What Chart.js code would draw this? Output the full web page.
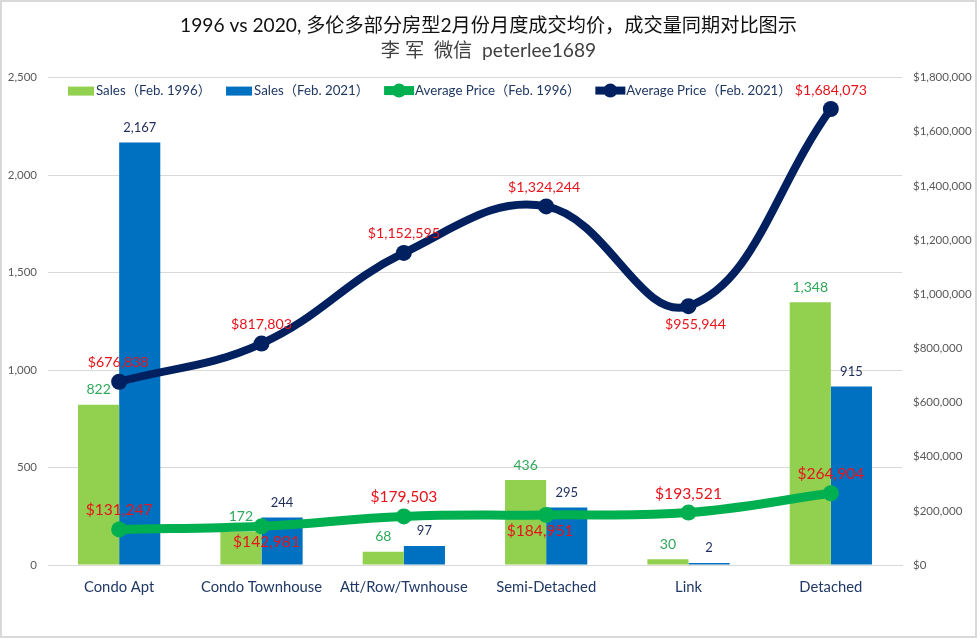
<!DOCTYPE html>
<html>
<head>
<meta charset="utf-8">
<title>1996 vs 2020</title>
<script src="https://cdn.jsdelivr.net/npm/chart.js@4"></script>
<style>
    html, body { margin: 0; padding: 0; background: #fff; overflow: hidden; }
    #wrap { position: relative; width: 977px; height: 638px; box-sizing: border-box; border: 2px solid #d9d9d9; }
    canvas { display: block; }
</style>
</head>
<body>
<div id="wrap"><canvas id="chart" width="973" height="634"></canvas></div>
<script>
// data
const categories = ["Condo Apt", "Condo Townhouse", "Att/Row/Twnhouse", "Semi-Detached", "Link", "Detached"];
const sales1996 = [822, 172, 68, 436, 30, 1348];
const sales2021 = [2167, 244, 97, 295, 2, 915];
const price1996 = [131247, 142981, 179503, 184951, 193521, 264904];
const price2021 = [676838, 817803, 1152595, 1324244, 955944, 1684073];

const titleLine = "1996 vs 2020, 多伦多部分房型2月份月度成交均价，成交量同期对比图示";
const subtitleLine = "李 军  微信  peterlee1689";

const FONT = 'Lato, "Noto Sans CJK SC", sans-serif';
const GREEN_BAR = "#92d050";
const BLUE_BAR = "#0070c0";
const GREEN_LINE = "#00b050";
const NAVY_LINE = "#002060";

// where each price label sits relative to its point
const price1996Side = ["above", "below", "above", "below", "above", "above"];
const price2021Side = ["above", "above", "above", "above", "below", "above"];
const price1996Nudge = [0, 5, 0, -6, 0, 0];
const price2021Nudge = [-1, 0, 0, -2, 7, 0];

// value labels, drawn from the dataset points
const valueLabels = {
    id: "valueLabels",
    afterDatasetsDraw(chart) {
        const ctx = chart.ctx;
        ctx.save();
        ctx.textAlign = "center";
        ctx.textBaseline = "middle";
        chart.data.datasets.forEach((ds, i) => {
            const meta = chart.getDatasetMeta(i);
            meta.data.forEach((pt, j) => {
                const text = ds.labelPrefix + ds.data[j].toLocaleString("en-US");
                let offset = -15;
                let nudge = 0;
                if (ds.labelSides) {
                    offset = ds.labelSides[j] === "below" ? ds.labelBelow : -19;
                    nudge = ds.labelNudge[j];
                }
                ctx.font = ds.labelSize + "px " + FONT;
                ctx.fillStyle = ds.labelColor;
                ctx.fillText(text, pt.x + nudge, pt.y + offset);
            });
        });
        ctx.restore();
    }
};

// legend laid over the top of the plot, in one row
const rowLegend = {
    id: "rowLegend",
    afterDatasetsDraw(chart) {
        const ctx = chart.ctx;
        const y = chart.chartArea.top + 13;
        let x = chart.chartArea.left + 20;
        ctx.save();
        ctx.font = "13.3px " + FONT;
        ctx.textAlign = "left";
        ctx.textBaseline = "middle";
        chart.data.datasets.forEach(ds => {
            const isBar = ds.type === "bar";
            const w = isBar ? 26 : 30;
            ctx.fillStyle = ds.backgroundColor;
            ctx.strokeStyle = ds.backgroundColor;
            if (isBar) {
                ctx.fillRect(x, y - 4, w, 9);
            } else {
                ctx.lineWidth = ds.borderWidth;
                ctx.beginPath();
                ctx.moveTo(x, y);
                ctx.lineTo(x + w, y);
                ctx.stroke();
                ctx.beginPath();
                ctx.arc(x + w / 2, y, 7, 0, Math.PI * 2);
                ctx.fill();
            }
            x += w + (isBar ? 2 : 1);
            ctx.fillStyle = "#1f3864";
            ctx.fillText(ds.label, x, y);
            x += ctx.measureText(ds.label).width + 15;
        });
        ctx.restore();
    }
};

new Chart(document.getElementById("chart"), {
    data: {
        labels: categories,
        datasets: [
            {
                type: "bar", label: "Sales（Feb. 1996）", data: sales1996, yAxisID: "y", order: 3,
                backgroundColor: GREEN_BAR, barPercentage: 1, categoryPercentage: 0.578,
                labelPrefix: "", labelSize: 14, labelColor: "#2fa85a"
            },
            {
                type: "bar", label: "Sales（Feb. 2021）", data: sales2021, yAxisID: "y", order: 3,
                backgroundColor: BLUE_BAR, barPercentage: 1, categoryPercentage: 0.578,
                minBarLength: 2,
                labelPrefix: "", labelSize: 13, labelColor: "#1f2d5c"
            },
            {
                type: "line", label: "Average Price（Feb. 1996）", data: price1996, yAxisID: "y1", order: 2,
                borderColor: GREEN_LINE, backgroundColor: GREEN_LINE, borderWidth: 9,
                pointRadius: 8, pointBorderWidth: 0, tension: 0.4,
                labelPrefix: "$", labelSize: 15.6, labelColor: "#e8141c", labelBelow: 16,
                labelSides: price1996Side, labelNudge: price1996Nudge
            },
            {
                type: "line", label: "Average Price（Feb. 2021）", data: price2021, yAxisID: "y1", order: 1,
                borderColor: NAVY_LINE, backgroundColor: NAVY_LINE, borderWidth: 8,
                pointRadius: 8, pointBorderWidth: 0, tension: 0.4,
                labelPrefix: "$", labelSize: 14.2, labelColor: "#e8141c", labelBelow: 18,
                labelSides: price2021Side, labelNudge: price2021Nudge
            }
        ]
    },
    options: {
        responsive: false,
        animation: false,
        plugins: {
            title: {
                display: true, text: titleLine, color: "#111",
                font: { family: FONT, size: 19.2, weight: "normal" }, padding: { top: 12, bottom: 2 }
            },
            subtitle: {
                display: true, text: subtitleLine, color: "#404040",
                font: { family: FONT, size: 19.2, weight: "normal" }, padding: { top: 0, bottom: 15.5 }
            },
            legend: { display: false },
            tooltip: { enabled: false }
        },
        scales: {
            x: {
                offset: true,
                grid: { display: false },
                border: { color: "#d9d9d9" },
                ticks: { color: "#1f3864", font: { family: FONT, size: 14.8 }, padding: 5, maxRotation: 0, autoSkip: false },
                afterFit(axis) { axis.height = 71; }
            },
            y: {
                position: "left", min: 0, max: 2500,
                grid: { color: "#d9d9d9", drawTicks: false },
                border: { display: false },
                ticks: { stepSize: 500, color: "#595959", padding: 11, font: { family: FONT, size: 11.5 }, callback: v => v.toLocaleString("en-US") },
                afterFit(axis) { axis.width = 46; }
            },
            y1: {
                position: "right", min: 0, max: 1800000,
                grid: { display: false, drawTicks: false },
                border: { display: false },
                ticks: { stepSize: 200000, color: "#595959", padding: 11, font: { family: FONT, size: 11.5 }, callback: v => "$" + v.toLocaleString("en-US") },
                afterFit(axis) { axis.width = 73; }
            }
        }
    },
    plugins: [valueLabels, rowLegend]
});
</script>
</body>
</html>
